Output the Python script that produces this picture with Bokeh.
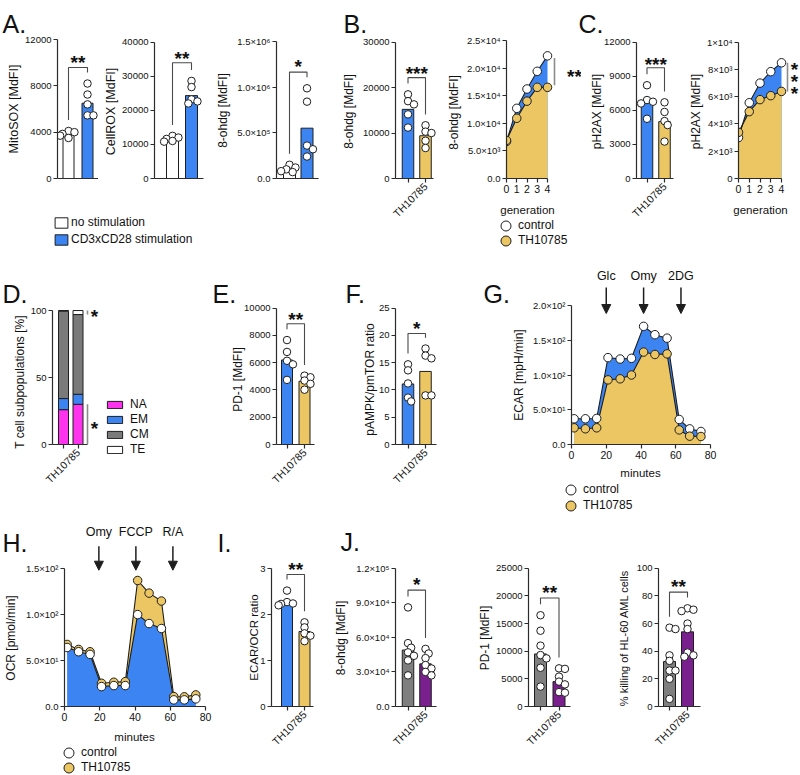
import math
from bokeh.plotting import figure
from bokeh.models import (Range1d, FixedTicker, Label, Arrow, NormalHead, Legend,
                          LegendItem, ColumnDataSource, GridBox)
from bokeh.layouts import row, column
from bokeh.embed import file_html
from bokeh.resources import INLINE
from bokeh.core.properties import value

# ------------------------------------------------------------------ data
groups = ["control", "TH10785"]
bar_tick_labels = ["", "TH10785"]
stim_groups = ["no stimulation", "CD3xCD28 stimulation"]

mitosox_points = [[4100, 4000, 3850, 3700, 3500], [8200, 7250, 6400, 5450, 5450]]
mitosox_means = [3800, 6500]
cellrox_points = [[12500, 12000, 11600, 11000, 10800], [28600, 26800, 23200, 22600, 22000]]
cellrox_means = [11300, 24300]
ohdg_stim_points = [[150000, 120000, 100000, 80000, 70000], [986000, 840000, 360000, 320000, 240000]]
ohdg_stim_means = [100000, 550000]
ohdg_points = [[18500, 17000, 16300, 14100, 11200], [11700, 10300, 10000, 8300, 6700]]
ohdg_means = [15200, 9400]
generation = [0, 1, 2, 3, 4]
ohdg_gen_control = [6700, 12700, 16200, 19400, 22200]
ohdg_gen_th = [6900, 10900, 14000, 16500, 16500]
ph2ax_points = [[8200, 6900, 6750, 6600, 5250], [6700, 5850, 5050, 4700, 3250]]
ph2ax_means = [6700, 5000]
ph2ax_gen_control = [3000, 5550, 6990, 7830, 8480]
ph2ax_gen_th = [3380, 4900, 5780, 6070, 6380]
subsets = ["NA", "EM", "CM", "TE"]
subset_NA = [26.0, 30.0]
subset_EM = [8.3, 7.5]
subset_CM = [65.2, 59.5]
subset_TE = [0.5, 3.0]
pd1_points = [[7660, 6790, 6140, 5880, 4740], [5050, 4930, 4690, 4450, 4020]]
pd1_means = [6200, 4640]
ampk_points = [[14.7, 13.6, 11.2, 8.6, 7.9], [17.6, 16.3, 15.8, 9.0, 9.0]]
ampk_means = [11.1, 13.4]
minutes = [1.5, 8, 14.5, 21, 28, 34.5, 41.5, 48, 55, 62, 68, 74.5]
ecar_control = [37, 37, 37.5, 125, 123, 124, 170, 158, 153, 36, 22.5, 18.7]
ecar_th = [24, 22.6, 24, 93, 94.5, 100, 133, 129.5, 130.4, 21, 12, 11.5]
ecar_injections = ["Glc", "Omy", "2DG"]
ecar_injection_times = [20, 41.5, 63]
ocr_control = [64, 59.4, 56.5, 21.6, 22.7, 22.7, 99.7, 90, 84.6, 7.2, 7.2, 8.3]
ocr_th = [67.3, 61.9, 59.4, 25.2, 26.3, 27, 136.7, 123, 114.4, 10.8, 10.5, 12.6]
ocr_injections = ["Omy", "FCCP", "R/A"]
ocr_injection_times = [19.5, 40.5, 61.5]
ratio_points = [[2.52, 2.27, 2.24, 2.23, 2.20], [1.83, 1.72, 1.59, 1.54, 1.42]]
ratio_means = [2.27, 1.63]
car_ohdg_points = [[86000, 55000, 51000, 47000, 44000, 40000, 27000],
                   [50000, 46000, 42000, 36000, 33000, 30000, 27000]]
car_ohdg_means = [49000, 37000]
car_pd1_points = [[16500, 13700, 11000, 9300, 8700, 7000, 3600],
                  [6900, 6800, 5400, 4500, 4000, 2600, 2500]]
car_pd1_means = [9500, 4500]
killing_points = [[57, 56, 37, 33, 26, 26, 20, 5.5], [71, 70, 69, 60, 56, 39, 37, 36]]
killing_means = [32.5, 54]

# tick values / tick labels
t_mitosox = [0, 4000, 8000, 12000]
t_cellrox = [0, 10000, 20000, 30000, 40000]
t_ohdg_stim = [0, 5e5, 1e6, 1.5e6]
l_ohdg_stim = ["0.0", "5.0×10⁵", "1.0×10⁶", "1.5×10⁶"]
t_ohdg = [0, 10000, 20000, 30000]
t_ohdg_gen = [0, 5e3, 1e4, 1.5e4, 2e4, 2.5e4]
l_ohdg_gen = ["0.0", "5.0×10³", "1.0×10⁴", "1.5×10⁴", "2.0×10⁴", "2.5×10⁴"]
t_ph2ax = [0, 3000, 6000, 9000, 12000]
t_ph2ax_gen = [0, 2000, 4000, 6000, 8000, 10000]
l_ph2ax_gen = ["0", "2×10³", "4×10³", "6×10³", "8×10³", "1×10⁴"]
t_subsets = [0, 50, 100]
t_pd1 = [0, 2000, 4000, 6000, 8000, 10000]
t_ampk = [0, 5, 10, 15, 20, 25]
t_ecar = [0, 50, 100, 150, 200]
l_ecar = ["0.0", "5.0×10¹", "1.0×10²", "1.5×10²", "2.0×10²"]
t_ocr = [0, 50, 100, 150]
l_ocr = ["0.0", "5.0×10¹", "1.0×10²", "1.5×10²"]
t_min = [0, 20, 40, 60, 80]
t_ratio = [0, 1, 2, 3]
t_car_ohdg = [0, 3e4, 6e4, 9e4, 1.2e5]
l_car_ohdg = ["0.0", "3.0×10⁴", "6.0×10⁴", "9.0×10⁴", "1.2×10⁵"]
t_car_pd1 = [0, 5000, 10000, 15000, 20000, 25000]
t_killing = [0, 20, 40, 60, 80, 100]

# ------------------------------------------------------------------ style
FONT = "Liberation Sans"
INK = "#1e1e1e"
AXC = "#2b2b2b"
BRK = "#4a4a4a"
SIGL = "#8c8c8c"
WHITE = "#ffffff"
BLUE = "#3b84f2"
YELLOW = "#ebc663"
GRAY = "#7f7f7f"
PURPLE = "#7a1f8e"
MAGENTA = "#ff33ee"
CMGRAY = "#7a7a7a"
STAR = 19
STAR_DROP = 0.24 * STAR   # baseline offset below the visual centre of the asterisks
W, H_ = 800, 775


def new_panel(tile, ax, y0, y1, ytop, xmap):
    tx0, tx1, ty0, ty1 = tile
    xa_px, xa_v, xb_px, xb_v = xmap
    sx = (xb_v - xa_v) / float(xb_px - xa_px)
    sy = ytop / float(y0 - y1)

    def fx(px):
        return xa_v + (px - xa_px) * sx

    def fy(py):
        return (y0 - py) * sy

    p = figure(width=tx1 - tx0, height=ty1 - ty0,
               x_range=Range1d(fx(ax), fx(tx1)), y_range=Range1d(0, fy(ty0)),
               min_border=0, min_border_left=ax - tx0, min_border_right=0,
               min_border_top=0, min_border_bottom=ty1 - y0,
               output_backend="svg", toolbar_location=None, tools="")
    p.outline_line_color = None
    p.xgrid.visible = False
    p.ygrid.visible = False
    p.border_fill_color = "white"
    p.background_fill_color = "white"
    return dict(p=p, fx=fx, fy=fy, sx=sx, sy=sy, ax=ax, y0=y0, y1=y1)


def style_axis(axis, ticks, labels, bounds, size="9.5px", orient=None):
    axis.ticker = FixedTicker(ticks=list(ticks))
    if labels is not None:
        axis.major_label_overrides = {float(t): l for t, l in zip(ticks, labels)}
    axis.bounds = bounds
    axis.axis_line_color = AXC
    axis.axis_line_width = 1.2
    axis.major_tick_line_color = AXC
    axis.major_tick_line_width = 1.2
    axis.major_tick_out = 4
    axis.major_tick_in = 0
    axis.minor_tick_line_color = None
    axis.major_label_standoff = 2
    axis.major_label_text_font = FONT
    axis.major_label_text_font_size = size
    axis.major_label_text_color = "#111111"
    axis.axis_label = None
    if orient is not None:
        axis.major_label_orientation = orient


def star_label(p, x, y, text):
    p.add_layout(Label(x=x, y=y, text=text, text_align="center", text_baseline="alphabetic",
                       text_font=FONT, text_font_size="%dpx" % STAR, text_font_style="bold",
                       text_color="#111111"))


def stars_at(P, px, py, text):
    # py = visual centre of the asterisks (page px)
    star_label(P["p"], P["fx"](px), P["fy"](py + STAR_DROP), text)


def swarm(vals, px_per_unit, d=7.0):
    order = sorted(range(len(vals)), key=lambda i: -vals[i])
    placed = []
    offs = [0.0] * len(vals)
    cands = [0.0, 0.45, -0.45, 0.85, -0.85, 1.2, -1.2]
    for i in order:
        ypx = vals[i] * px_per_unit
        chosen = cands[-1]
        for c in cands:
            xo = c * d
            if all((xo - a) ** 2 + (ypx - b) ** 2 >= (0.7 * d) ** 2 for a, b in placed):
                chosen = c
                break
        placed.append((chosen * d, ypx))
        offs[i] = chosen * d
    return offs


def bar_panel(spec, points, means, colors, yticks, ylabels, xticks_on=True):
    c0, c1 = spec["c"]
    P = new_panel(spec["tile"], spec["ax"], spec["y0"], spec["y1"], yticks[-1], (c0, 0, c1, 1))
    p, fx, sx, sy = P["p"], P["fx"], P["sx"], P["sy"]
    src = ColumnDataSource(dict(x=[0, 1], top=means, color=colors))
    p.vbar(x="x", top="top", bottom=0, width=spec["w"] * sx, fill_color="color",
           line_color=INK, line_width=1, source=src)
    for i, g in enumerate(points):
        offs = swarm(g, 1.0 / sy)
        p.scatter([i + o * sx for o in offs], g, size=7.5, marker="circle",
                  fill_color="white", line_color=INK, line_width=1)
    style_axis(p.yaxis[0], yticks, ylabels if ylabels else [str(int(t)) for t in yticks],
               (0, yticks[-1]))
    if xticks_on:
        style_axis(p.xaxis[0], [0, 1], bar_tick_labels, (fx(spec["ax"]), fx(spec["end"])),
                   size="10.5px", orient=math.pi / 4)
    else:
        style_axis(p.xaxis[0], [], None, (fx(spec["ax"]), fx(spec["end"])))
    P["src"] = src
    return P


def bracket(P, points, br_py, st_py, text):
    p, fy, sy = P["p"], P["fy"], P["sy"]
    yb = fy(br_py)
    legs = [min(max(g) + 11 * sy, yb - 4 * sy) for g in points]
    p.line([0, 0, 1, 1], [legs[0], yb, yb, legs[1]], line_color=BRK, line_width=1.1)
    star_label(p, 0.5, fy(st_py + STAR_DROP), text)


def line_panel(spec, x, ctrl, th, yticks, ylabels, xticks, size=8.5):
    P = new_panel(spec["tile"], spec["ax"], spec["y0"], spec["y1"], yticks[-1],
                  (spec["ax"], xticks[0], spec["xend"], xticks[-1]))
    p = P["p"]
    series = [(ctrl, BLUE, "white"), (th, YELLOW, YELLOW)]
    series.sort(key=lambda s: -sum(s[0]))
    for ys, fc, mc in series:
        p.varea(x=x, y1=[0] * len(x), y2=ys, fill_color=fc)
    for ys, fc, mc in series:
        p.line(x, ys, line_color=INK, line_width=1.1)
    for ys, fc, mc in series:
        p.scatter(x, ys, size=size, marker="circle", fill_color=mc, line_color=INK, line_width=1)
    style_axis(p.yaxis[0], yticks, ylabels, (0, yticks[-1]))
    style_axis(p.xaxis[0], xticks, [str(t) for t in xticks], (xticks[0], xticks[-1]),
               size="10.5px")
    P["series"] = (x, ctrl, th)
    return P


# ------------------------------------------------------------------ overlay (page pixels)
OV = figure(width=W, height=H_, x_range=Range1d(0, W), y_range=Range1d(H_, 0),
            min_border=0, x_axis_location=None, y_axis_location=None,
            output_backend="svg", toolbar_location=None, tools="")
OV.outline_line_color = None
OV.xgrid.visible = False
OV.ygrid.visible = False
OV.background_fill_alpha = 0
OV.border_fill_alpha = 0


def ov_text(px, py, text, size="12px", angle=0.0, align="center", baseline="middle"):
    OV.add_layout(Label(x=px, y=py, text=text, angle=angle, text_align=align,
                        text_baseline=baseline, text_font=FONT, text_font_size=size,
                        text_color="#111111"))


def ov_letter(px, py, text):
    ov_text(px, py, text, size="25px", align="left", baseline="alphabetic")


def ov_ytitle(P, px, text, size="12px"):
    ov_text(px, (P["y0"] + P["y1"]) / 2.0, text, size=size, angle=math.pi / 2)


def legend_box(items, left, bottom, gw, gh, spacing, standoff):
    OV.add_layout(Legend(items=items, location=(left, H_ - bottom), orientation="vertical",
                         glyph_width=gw, glyph_height=gh, spacing=spacing,
                         label_standoff=standoff, padding=0, margin=0,
                         border_line_color=None, background_fill_alpha=0,
                         label_text_font=FONT, label_text_font_size="12px",
                         label_height=10, label_text_color="#111111"))


def ov_marker_legend(P, cx, cys):
    # hidden copies of the chart's series drive the legend symbols
    x, ctrl, th = P["series"]
    for g, ys, fc, cy in zip(groups, (ctrl, th), ("white", YELLOW), cys):
        r = OV.scatter(x=x, y=ys, size=8, marker="circle", fill_color=fc, line_color=INK,
                       line_width=1, visible=False)
        legend_box([LegendItem(label=value(g), renderers=[r])], cx - 12, cy + 13.5,
                   25, 27, 0, 0)


# ------------------------------------------------------------------ row 1
A1 = bar_panel(dict(tile=(0, 98, 0, 258), ax=57, y0=178, y1=39, c=(68, 87), w=11, end=98),
               mitosox_points, mitosox_means, [WHITE, BLUE], t_mitosox, None, xticks_on=False)
bracket(A1, mitosox_points, 67, 57, "**")
A2 = bar_panel(dict(tile=(98, 212, 0, 258), ax=154, y0=180, y1=42, c=(172, 191), w=12, end=203),
               cellrox_points, cellrox_means, [WHITE, BLUE], t_cellrox, None, xticks_on=False)
bracket(A2, cellrox_points, 63, 54, "**")
A3 = bar_panel(dict(tile=(212, 325, 0, 258), ax=276, y0=179, y1=41, c=(289, 306.5), w=12, end=318),
               ohdg_stim_points, ohdg_stim_means, [WHITE, BLUE], t_ohdg_stim, l_ohdg_stim,
               xticks_on=False)
bracket(A3, ohdg_stim_points, 72, 62, "*")
ov_letter(2, 23, "A.")
ov_ytitle(A1, 13, "MitoSOX [MdFI]", size="12.5px")
ov_ytitle(A2, 110, "CellROX [MdFI]", size="12.5px")
ov_ytitle(A3, 222, "8-ohdg [MdFI]")
ra = OV.vbar(x="x", top="top", width=1, fill_color="color", line_color=INK, line_width=1,
             source=A1["src"], visible=False)
legend_box([LegendItem(label=value(stim_groups[i]), renderers=[ra], index=i) for i in range(2)],
           53, 246, 16, 13, 3, 2)

B1 = bar_panel(dict(tile=(325, 440, 0, 258), ax=395, y0=180, y1=42, c=(407.5, 425), w=11.5, end=433),
               ohdg_points, ohdg_means, [BLUE, YELLOW], t_ohdg, None)
bracket(B1, ohdg_points, 78, 69, "***")
ov_letter(343, 23, "B.")
ov_ytitle(B1, 348, "8-ohdg [MdFI]")

B2 = line_panel(dict(tile=(440, 581, 0, 258), ax=506, y0=183, y1=41, xend=547),
                generation, ohdg_gen_control, ohdg_gen_th, t_ohdg_gen, l_ohdg_gen, generation)
B2["p"].line([B2["fx"](554)] * 2, [ohdg_gen_control[-1] - 400, ohdg_gen_th[-1] + 400],
             line_color=SIGL, line_width=1.6)
stars_at(B2, 574, B2["y0"] - (ohdg_gen_control[-1] + ohdg_gen_th[-1]) / 2 / B2["sy"], "**")
ov_ytitle(B2, 453, "8-ohdg [MdFI]")
ov_text(527, 209, "generation", size="11.5px")
ov_marker_legend(B2, 505, (225, 240))

C1 = bar_panel(dict(tile=(581, 686, 0, 258), ax=636, y0=180, y1=42, c=(646.5, 664), w=11.5, end=673),
               ph2ax_points, ph2ax_means, [BLUE, YELLOW], t_ph2ax, None)
bracket(C1, ph2ax_points, 68, 60, "***")
ov_letter(578, 23, "C.")
ov_ytitle(C1, 596, "pH2AX [MdFI]")

C2 = line_panel(dict(tile=(686, 800, 0, 258), ax=738, y0=180, y1=42, xend=781),
                generation, ph2ax_gen_control, ph2ax_gen_th, t_ph2ax_gen, l_ph2ax_gen, generation)
C2["p"].line([C2["fx"](787)] * 2, [ph2ax_gen_control[-1], ph2ax_gen_th[-1]],
             line_color=SIGL, line_width=1.6)
c2_mid = C2["y0"] - (ph2ax_gen_control[-1] + ph2ax_gen_th[-1]) / 2 / C2["sy"]
for k in (-12, 0, 12):
    stars_at(C2, 794, c2_mid + k, "*")
ov_ytitle(C2, 695, "pH2AX [MdFI]")
ov_text(760, 209, "generation", size="11.5px")

# ------------------------------------------------------------------ row 2
D = new_panel((0, 205, 258, 515), 52, 451, 312, 100, (63, 0, 77.5, 1))
pD = D["p"]
srcD = ColumnDataSource(dict(x=[0, 1], NA=subset_NA, EM=subset_EM, CM=subset_CM, TE=subset_TE))
d_colors = [MAGENTA, BLUE, CMGRAY, WHITE]
pD.vbar_stack(subsets, x="x", width=10 * D["sx"], fill_color=d_colors,
              line_color=INK, line_width=1, source=srcD)
style_axis(pD.yaxis[0], t_subsets, [str(t) for t in t_subsets], (0, 100))
style_axis(pD.xaxis[0], [0, 1], bar_tick_labels, (D["fx"](52), D["fx"](87)), size="10.5px",
           orient=math.pi / 4)
te_top = subset_NA[1] + subset_EM[1] + subset_CM[1] + subset_TE[1]
pD.line([D["fx"](87)] * 2, [te_top, te_top - subset_TE[1]], line_color=SIGL, line_width=1.6)
pD.line([D["fx"](87)] * 2, [0, subset_NA[1]], line_color=SIGL, line_width=1.6)
stars_at(D, 94, D["y0"] - (te_top - subset_TE[1] / 2) / D["sy"], "*")
stars_at(D, 94, D["y0"] - (subset_NA[1] / 2) / D["sy"], "*")
ov_letter(2, 293, "D.")
ov_ytitle(D, 19, "T cell subpopulations [%]")
rd = OV.vbar_stack(subsets, x="x", width=1, fill_color=d_colors, line_color=INK, line_width=1,
                   source=srcD, visible=False)
legend_box([LegendItem(label=value(s), renderers=[r]) for s, r in zip(subsets, rd)],
           105, 456, 19, 9, 1, 6)

E = bar_panel(dict(tile=(205, 330, 258, 515), ax=276, y0=449, y1=309, c=(286.5, 304), w=11, end=314),
              pd1_points, pd1_means, [BLUE, YELLOW], t_pd1, None)
bracket(E, pd1_points, 325, 316, "**")
ov_letter(212, 293, "E.")
ov_ytitle(E, 237, "PD-1 [MdFI]")

F = bar_panel(dict(tile=(330, 445, 258, 515), ax=395, y0=449, y1=309, c=(407.5, 425), w=11.5, end=436),
              ampk_points, ampk_means, [BLUE, YELLOW], t_ampk, None)
bracket(F, ampk_points, 335, 325, "*")
ov_letter(345, 293, "F.")
ov_ytitle(F, 369, "pAMPK/pmTOR ratio")

G = line_panel(dict(tile=(445, 800, 258, 515), ax=571, y0=444, y1=305, xend=710),
               minutes, ecar_control, ecar_th, t_ecar, l_ecar, t_min)
for name, t in zip(ecar_injections, ecar_injection_times):
    G["p"].add_layout(Arrow(end=NormalHead(size=9, fill_color=INK, line_color=INK, line_width=1),
                            x_start=t, y_start=G["fy"](287), x_end=t, y_end=G["fy"](313),
                            line_color=INK, line_width=1.5))
    G["p"].add_layout(Label(x=t, y=G["fy"](275), text=name, text_align="center",
                            text_baseline="middle", text_font=FONT, text_font_size="12.5px",
                            text_color="#111111"))
ov_letter(483, 293, "G.")
ov_ytitle(G, 518, "ECAR [mpH/min]")
ov_text(640, 472, "minutes", size="11.5px")
ov_marker_legend(G, 570, (489, 505))

# ------------------------------------------------------------------ row 3
HP = line_panel(dict(tile=(0, 215, 515, 775), ax=64, y0=707, y1=568, xend=205),
                minutes, ocr_control, ocr_th, t_ocr, l_ocr, t_min)
for name, t in zip(ocr_injections, ocr_injection_times):
    HP["p"].add_layout(Arrow(end=NormalHead(size=9, fill_color=INK, line_color=INK, line_width=1),
                             x_start=t, y_start=HP["fy"](546), x_end=t, y_end=HP["fy"](570),
                             line_color=INK, line_width=1.5))
    HP["p"].add_layout(Label(x=t, y=HP["fy"](532), text=name, text_align="center",
                             text_baseline="middle", text_font=FONT, text_font_size="12.5px",
                             text_color="#111111"))
ov_letter(2, 542, "H.")
ov_ytitle(HP, 10, "OCR [pmol/min]")
ov_text(134, 736, "minutes", size="11.5px")
ov_marker_legend(HP, 68, (752, 767))

I = bar_panel(dict(tile=(215, 332, 515, 775), ax=271, y0=706, y1=568, c=(286.5, 304), w=11, end=313),
              ratio_points, ratio_means, [BLUE, YELLOW], t_ratio, None)
bracket(I, ratio_points, 574, 564, "**")
ov_letter(217, 542, "I.")
ov_ytitle(I, 253, "ECAR/OCR ratio", size="11.5px")

J1 = bar_panel(dict(tile=(332, 470, 515, 775), ax=395, y0=707, y1=568, c=(407.5, 425), w=11.5, end=436),
               car_ohdg_points, car_ohdg_means, [GRAY, PURPLE], t_car_ohdg, l_car_ohdg)
bracket(J1, car_ohdg_points, 590, 580, "*")
ov_letter(340, 541, "J.")
ov_ytitle(J1, 340, "8-ohdg [MdFI]")

J2 = bar_panel(dict(tile=(470, 612, 515, 775), ax=528, y0=707, y1=568, c=(540, 558.5), w=12, end=570),
               car_pd1_points, car_pd1_means, [GRAY, PURPLE], t_car_pd1, None)
bracket(J2, car_pd1_points, 598, 588, "**")
ov_ytitle(J2, 484, "PD-1 [MdFI]")

J3 = bar_panel(dict(tile=(612, 800, 515, 775), ax=658, y0=707, y1=568, c=(669, 687), w=12, end=700),
               killing_points, killing_means, [GRAY, PURPLE], t_killing, None)
bracket(J3, killing_points, 592, 582, "**")
ov_ytitle(J3, 623, "% killing of HL-60 AML cells", size="11px")

# ------------------------------------------------------------------ layout
row1 = row(A1["p"], A2["p"], A3["p"], B1["p"], B2["p"], C1["p"], C2["p"], spacing=0)
row2 = row(D["p"], E["p"], F["p"], G["p"], spacing=0)
row3 = row(HP["p"], I["p"], J1["p"], J2["p"], J3["p"], spacing=0)
main = column(row1, row2, row3, spacing=0)
layout = GridBox(children=[(main, 0, 0), (OV, 0, 0)])

open("out.html", "w").write(file_html(layout, INLINE))
